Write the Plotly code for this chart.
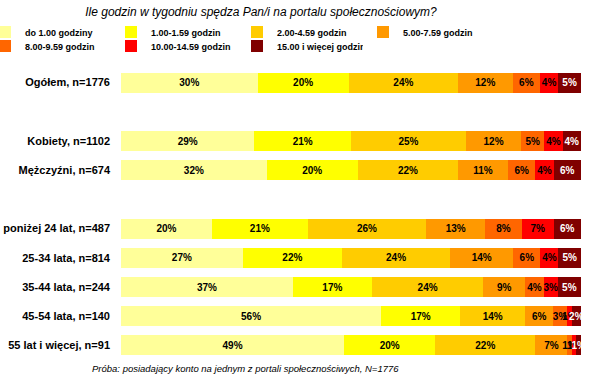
import plotly.graph_objects as go

categories = ["Ogółem, n=1776", "Kobiety, n=1102", "Mężczyźni, n=674",
              "poniżej 24 lat, n=487", "25-34 lata, n=814", "35-44 lata, n=244",
              "45-54 lata, n=140", "55 lat i więcej, n=91"]
group = [0, 1, 1, 2, 2, 2, 2, 2]

series_names = ["do 1.00 godziny", "1.00-1.59 godzin", "2.00-4.59 godzin", "5.00-7.59 godzin",
                "8.00-9.59 godzin", "10.00-14.59 godzin", "15.00 i więcej godzin"]
do_1 = [30, 29, 32, 20, 27, 37, 56, 49]
h1_159 = [20, 21, 20, 21, 22, 17, 17, 20]
h2_459 = [24, 25, 22, 26, 24, 24, 14, 22]
h5_759 = [12, 12, 11, 13, 14, 9, 6, 7]
h8_959 = [6, 5, 6, 8, 6, 4, 3, 1]
h10_1459 = [4, 4, 4, 7, 4, 3, 1, 1]
h15_plus = [5, 4, 6, 6, 5, 5, 2, 1]
series_values = [do_1, h1_159, h2_459, h5_759, h8_959, h10_1459, h15_plus]

colors = ["#FFFF99", "#FFFF00", "#FFCC00", "#FF9900", "#FF6600", "#FF0000", "#800000"]
text_colors = ["#000000"] * 6 + ["#FFFFFF"]

ypos = [i + g for i, g in enumerate(group)]

fig = go.Figure()
for k, (name, vals, col, tc) in enumerate(zip(series_names, series_values, colors, text_colors)):
    fig.add_trace(go.Bar(
        y=ypos, x=vals, name=name, orientation="h",
        marker=dict(color=col, line=dict(width=0)),
        width=0.69,
        text=[f"{v}%" for v in vals],
        textposition="inside", insidetextanchor="middle", textangle=0,
        textfont=dict(family="Liberation Sans", size=10, color=tc, weight="bold"),
        hoverinfo="skip",
        legend="legend" if k < 4 else "legend2",
    ))

legend_common = dict(orientation="h", xref="paper", yref="paper",
                     xanchor="left", yanchor="middle",
                     entrywidth=81, entrywidthmode="pixels",
                     font=dict(family="Liberation Sans", size=9, color="#000000", weight="bold"),
                     traceorder="normal", itemwidth=30, bgcolor="rgba(0,0,0,0)")
lx = (-15 - 121) / 460

fig.update_layout(
    width=596, height=378,
    barmode="stack", barnorm="percent",
    plot_bgcolor="white", paper_bgcolor="white",
    margin=dict(l=121, r=15, t=68, b=18, autoexpand=False),
    uniformtext=dict(minsize=10, mode="show"),
    font=dict(family="Liberation Sans", color="#000000"),
    title=dict(text="<i>Ile godzin w tygodniu spędza Pan/i na portalu społecznościowym?</i>",
               x=261 / 596, xanchor="center", xref="container",
               y=1 - 12 / 378, yanchor="middle", yref="container",
               font=dict(family="Liberation Sans", size=12, color="#000000")),
    legend=dict(legend_common, x=lx, y=1 + (68 - 32) / 292),
    legend2=dict(legend_common, x=lx, y=1 + (68 - 46) / 292),
    showlegend=True,
)
fig.update_xaxes(range=[0, 100], showgrid=False, showticklabels=False, zeroline=False,
                 showline=False, fixedrange=True)
fig.update_yaxes(range=[9.5, -0.5], tickvals=ypos, ticktext=categories,
                 showgrid=False, zeroline=False, showline=False, ticks="",
                 ticklabelstandoff=10, fixedrange=True,
                 tickfont=dict(family="Liberation Sans", size=11, color="#000000", weight="bold"))

fig.add_annotation(text="<i>Próba: posiadający konto na jednym z portali społecznościwych, N=1776</i>",
                   xref="paper", yref="paper", x=(245.5 - 121) / 460, y=-(368 - 360) / 292,
                   xanchor="center", yanchor="middle", showarrow=False,
                   font=dict(family="Liberation Sans", size=9.5, color="#000000"))

fig.write_html("out.html", config={"displayModeBar": False},
               post_script="document.body.style.margin='0';")
